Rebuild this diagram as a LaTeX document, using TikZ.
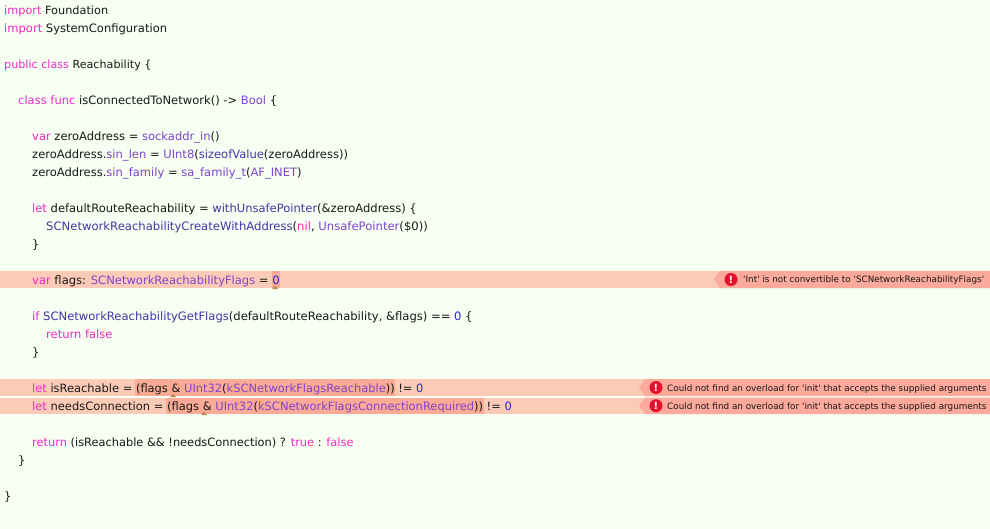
\documentclass[tikz,border=0pt]{standalone}
\usepackage{fontspec}
\setmainfont{DejaVu Sans}
\usetikzlibrary{calc}
\definecolor{bgc}{HTML}{F6FFF2}
\definecolor{barc}{HTML}{FCCBB7}
\definecolor{darkc}{HTML}{FBAA95}
\definecolor{msgc}{HTML}{FDA99B}
\definecolor{redc}{HTML}{E2122E}
\definecolor{kw}{HTML}{F22AC8}
\definecolor{ty}{HTML}{7F45CC}
\definecolor{fn}{HTML}{4A34A8}
\definecolor{nm}{HTML}{2A24D8}
\definecolor{caretc}{HTML}{B8864A}
\newcommand{\K}[1]{\textcolor{kw}{#1}}
\newcommand{\T}[1]{\textcolor{ty}{#1}}
\newcommand{\F}[1]{\textcolor{fn}{#1}}
\newcommand{\N}[1]{\textcolor{nm}{#1}}
\newcommand{\Q}{\textquotesingle}
\tikzset{
  code/.style={anchor=base west,inner sep=0pt,text=black!90},
  msg/.style={anchor=base west,inner sep=0pt,font=\fontsize{8.82}{10}\selectfont,text=black!90},
  bangdot/.style={circle,fill=redc,minimum size=13pt,inner sep=0pt,text=white,font=\bfseries\fontsize{10}{10}\selectfont},
  caret/.style={fill=caretc,draw=none},
}
\newcommand{\cl}[5][11.53]{\node[code] (#2) at (#3,#4) {\fontsize{#1}{13}\selectfont #5};}
\begin{document}
\begin{tikzpicture}[x=1pt,y=-1pt]
\path[use as bounding box,fill=bgc] (0,0) rectangle (990,529);
% bars
\fill[barc] (0,271) rectangle (990,288);
\fill[barc] (0,379) rectangle (990,396);
\fill[barc] (0,397.5) rectangle (990,414);
\fill[darkc] (272,271) rectangle (280,288);
\fill[darkc] (135,379) rectangle (395,396);
\fill[darkc] (166,397.5) rectangle (484,414);
\fill[msgc] (714,279.5) -- (720,271) -- (990,271) -- (990,288) -- (720,288) -- cycle;
\fill[msgc] (639,387.5) -- (645,379) -- (990,379) -- (990,396) -- (645,396) -- cycle;
\fill[msgc] (639,405.7) -- (645,397.5) -- (990,397.5) -- (990,414) -- (645,414) -- cycle;
\fill[caret] (275,286) -- (278,289) -- (272,289) -- cycle;
\fill[caret] (173,394) -- (176,397) -- (170,397) -- cycle;
\fill[caret] (204,412) -- (207,415) -- (201,415) -- cycle;
% code
\cl[11.3]{l1}{4}{14.5}{\K{import} Foundation}
\cl{l2}{4}{32.5}{\K{import} SystemConfiguration}
\cl[11.15]{l3}{4}{68.5}{\K{public class} Reachability \{}
\cl{l4}{18}{104.5}{\K{class func} isConnectedToNetwork() -> \T{Bool} \{}
\cl{l5}{32}{140.5}{\K{var} zeroAddress = \T{sockaddr\_in}()}
\cl{l6}{32}{158.5}{zeroAddress.\T{sin\_len} = \T{UInt8}(\F{sizeofValue}(zeroAddress))}
\cl{l7}{32}{176.5}{zeroAddress.\T{sin\_family} = \T{sa\_family\_t}(\T{AF\_INET})}
\cl{l8}{32}{212.5}{\K{let} defaultRouteReachability = \F{withUnsafePointer}(\&zeroAddress) \{}
\cl[11.62]{l9}{46}{230.5}{\F{SCNetworkReachabilityCreateWithAddress}(\K{nil}, \T{UnsafePointer}(\$0))}
\cl{l10}{32}{248.5}{\}}
\cl{l11}{32}{284.5}{\K{var} flags: \T{SCNetworkReachabilityFlags} = \N{0}}
\cl[11.58]{l12}{32}{320.5}{\K{if} \F{SCNetworkReachabilityGetFlags}(defaultRouteReachability, \&flags) == \N{0} \{}
\cl{l13}{46}{338.5}{\K{return false}}
\cl{l14}{32}{356.5}{\}}
\cl[11.44]{l15}{32}{392.5}{\K{let} isReachable = (flags \& \T{UInt32}(\T{kSCNetworkFlagsReachable})) != \N{0}}
\cl[11.48]{l16}{32}{410.5}{\K{let} needsConnection = (flags \& \T{UInt32}(\T{kSCNetworkFlagsConnectionRequired})) != \N{0}}
\cl[11.39]{l17}{32}{446.5}{\K{return} (isReachable \&\& !needsConnection) ? \K{true} : \K{false}}
\cl{l18}{18}{464.5}{\}}
\cl{l19}{4}{500.5}{\}}
% messages
\node[bangdot] (e1) at (731,279.5) {!};
\node[bangdot] (e2) at (656,387.5) {!};
\node[bangdot] (e3) at (656,405.7) {!};
\node[msg] (m1) at (743,283) {\Q Int\Q{} is not convertible to \Q SCNetworkReachabilityFlags\Q};
\node[msg] (m2) at (667,391) {Could not find an overload for \Q init\Q{} that accepts the supplied arguments};
\node[msg] (m3) at (667,409.2) {Could not find an overload for \Q init\Q{} that accepts the supplied arguments};
\end{tikzpicture}
\end{document}
